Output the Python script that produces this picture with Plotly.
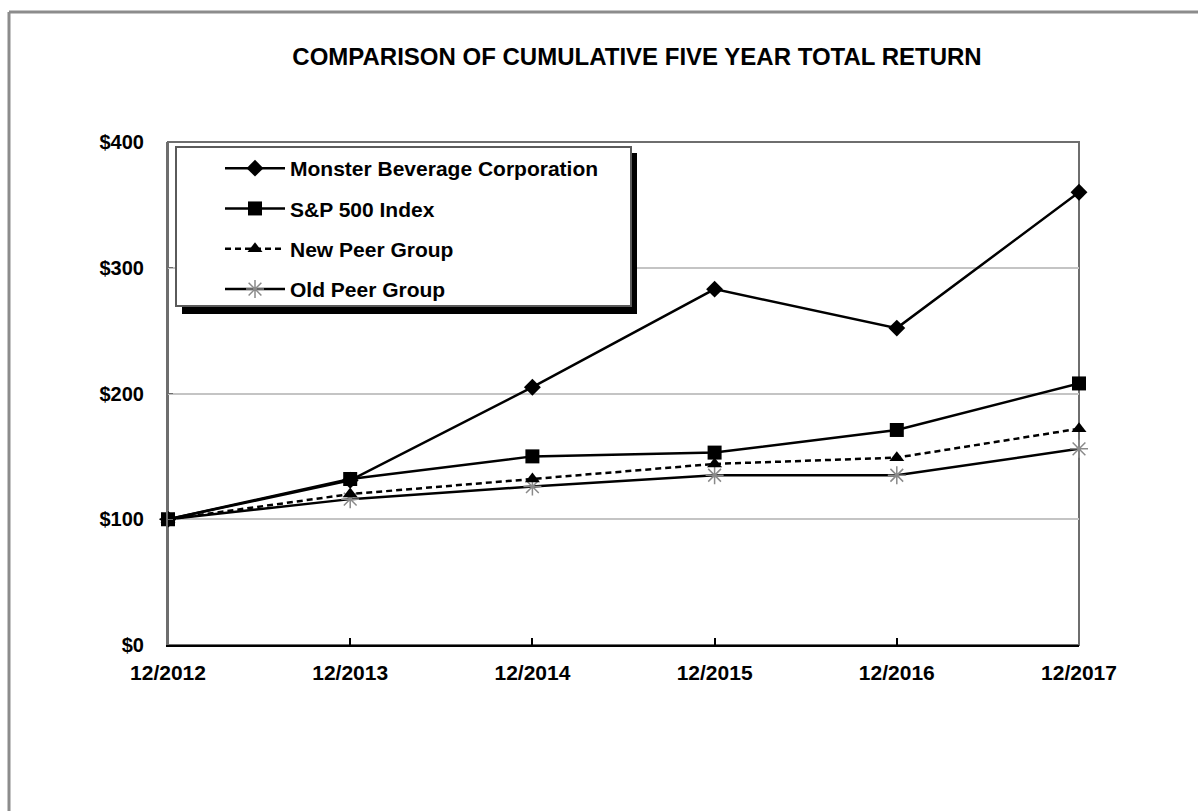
import plotly.graph_objects as go

periods = ["12/2012", "12/2013", "12/2014", "12/2015", "12/2016", "12/2017"]
monster = [100, 131, 205, 283, 252, 360]
sp500 = [100, 132, 150, 153, 171, 208]
new_peer = [100, 120, 132, 144, 149, 172]
old_peer = [100, 116, 126, 135, 135, 156]
y_ticks = [0, 100, 200, 300, 400]
y_tick_labels = ["$0", "$100", "$200", "$300", "$400"]

W, H = 1198, 811
L, R, T, B = 168, 1079, 142, 645
pw, ph = R - L, B - T

def px(x):
    return (x - L) / pw

def py(y):
    return (B - y) / ph

FONT = "Liberation Sans, Arial, sans-serif"

fig = go.Figure()

fig.add_trace(go.Scatter(
    x=periods, y=old_peer, name="Old Peer Group", mode="lines+markers",
    line=dict(color="black", width=2.5),
    marker=dict(symbol="asterisk-open", size=15, color="#8a8a8a", line=dict(width=1.5, color="#8a8a8a")),
    cliponaxis=False, legendgroup="d", legendrank=4))
fig.add_trace(go.Scatter(
    x=periods, y=new_peer, name="New Peer Group", mode="lines+markers",
    line=dict(color="black", width=2.5, dash="6px,4px"),
    marker=dict(symbol="triangle-up", size=13, color="black"),
    cliponaxis=False, legendgroup="c", legendrank=3))
fig.add_trace(go.Scatter(
    x=periods, y=sp500, name="S&P 500 Index", mode="lines+markers",
    line=dict(color="black", width=2.5),
    marker=dict(symbol="square", size=14, color="black"),
    cliponaxis=False, legendgroup="b", legendrank=2))
fig.add_trace(go.Scatter(
    x=periods, y=monster, name="Monster Beverage Corporation", mode="lines+markers",
    line=dict(color="black", width=2.5),
    marker=dict(symbol="diamond", size=13, color="black"),
    cliponaxis=False, legendgroup="a", legendrank=1))

shapes = [
    dict(type="line", xref="paper", yref="paper", x0=px(9), x1=px(1210), y0=py(12), y1=py(12),
         line=dict(color="#8c8c8c", width=3), layer="below"),
    dict(type="line", xref="paper", yref="paper", x0=px(9), x1=px(9), y0=py(12), y1=py(820),
         line=dict(color="#8c8c8c", width=3), layer="below"),
    dict(type="rect", xref="paper", yref="paper", x0=0, x1=1, y0=0, y1=1,
         line=dict(color="#6e6e6e", width=2), layer="below"),
    dict(type="rect", xref="paper", yref="paper", x0=px(182), x1=px(637), y0=py(314), y1=py(153),
         line=dict(width=0), fillcolor="black", layer="above"),
    dict(type="rect", xref="paper", yref="paper", x0=px(176), x1=px(631), y0=py(306), y1=py(147),
         line=dict(color="#5a5a5a", width=2), fillcolor="white", layer="above"),
]

fig.update_layout(
    width=W, height=H,
    margin=dict(l=L, r=W - R, t=T, b=H - B),
    paper_bgcolor="white", plot_bgcolor="white",
    font=dict(family=FONT, color="black", size=19, weight="bold"),
    title=dict(text="COMPARISON OF CUMULATIVE FIVE YEAR TOTAL RETURN",
               x=637 / W, xref="container", xanchor="center",
               y=1 - 57 / H, yref="container", yanchor="middle",
               font=dict(family=FONT, size=24, weight="bold", color="black")),
    showlegend=True,
    legend=dict(x=px(220), xanchor="left", y=py(148), yanchor="top",
                bgcolor="rgba(0,0,0,0)", borderwidth=0, itemwidth=60,
                font=dict(family=FONT, size=21, weight="bold", color="black"),
                tracegroupgap=10, traceorder="grouped"),
    shapes=shapes,
    xaxis=dict(type="category", range=[0, 5], showgrid=False, showline=True,
               linecolor="black", linewidth=2, ticks="inside", ticklen=7,
               tickcolor="black", tickwidth=1.5, ticklabelstandoff=8,
               tickfont=dict(family=FONT, size=21, weight="bold"), zeroline=False),
    yaxis=dict(range=[0, 400], tickvals=y_ticks, ticktext=y_tick_labels,
               showgrid=True, gridcolor="#c4c4c4", gridwidth=1.5,
               showline=True, linecolor="#6e6e6e", linewidth=2,
               ticks="inside", ticklen=5, tickcolor="#6e6e6e",
               ticklabelstandoff=18,
               tickfont=dict(family=FONT, size=20, weight="bold"), zeroline=False),
)

fig.write_html("out.html")
